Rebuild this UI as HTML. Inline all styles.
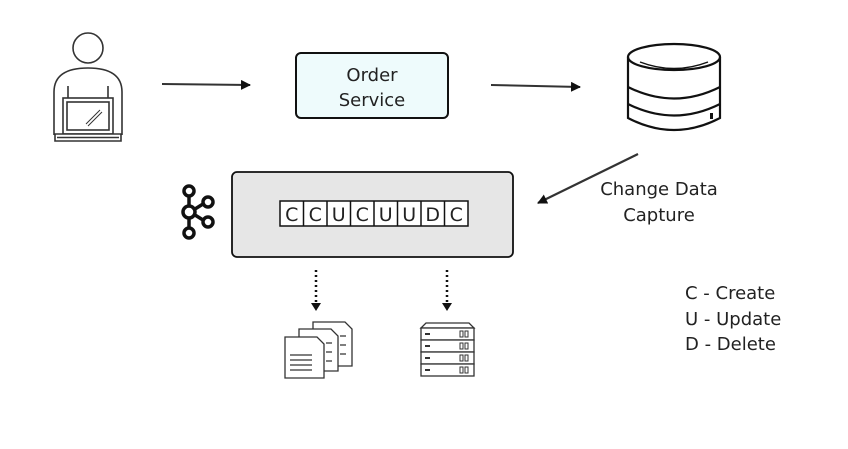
<!DOCTYPE html>
<html><head><style>
body{margin:0;background:#fff;}
svg text{font-family:"DejaVu Sans","Liberation Sans",sans-serif;fill:#222;}
</style></head><body>
<svg width="848" height="444" viewBox="0 0 848 444" xmlns="http://www.w3.org/2000/svg">
<defs>
<marker id="ah" markerWidth="10" markerHeight="10" refX="9" refY="5" orient="auto" markerUnits="userSpaceOnUse"><path d="M0,0 L10,5 L0,10 z" fill="#111"/></marker>
</defs>
<!-- person -->
<g fill="none" stroke="#333" stroke-width="1.6">
<circle cx="88" cy="48" r="15"/>
<path d="M54,135 L54,92 Q54,68 88,68 Q122,68 122,92 L122,135"/>
<rect x="63" y="98" width="50" height="36" fill="#fff"/>
<rect x="67" y="102" width="42" height="28"/>
<path d="M55,134 L121,134 L121,141 L55,141 z" fill="#fff"/>
<path d="M57,137.5 L119,137.5"/>
<path d="M86,124 L100,110 M88,126 L102,112" stroke-width="1"/>
<path d="M68,98 L68,86 M108,98 L108,86"/>
</g>
<!-- arrows -->
<line x1="162" y1="84" x2="250" y2="85" stroke="#333" stroke-width="2" marker-end="url(#ah)"/>
<line x1="491" y1="85" x2="580" y2="87" stroke="#333" stroke-width="2" marker-end="url(#ah)"/>
<!-- order service -->
<rect x="296" y="53" width="152" height="65" rx="5" fill="#eefbfc" stroke="#111" stroke-width="2"/>
<text x="372" y="81" font-size="18" text-anchor="middle">Order</text>
<text x="372" y="106" font-size="18" text-anchor="middle">Service</text>
<!-- db -->
<g fill="none" stroke="#111" stroke-width="2.2">
<ellipse cx="674" cy="57" rx="46" ry="13"/>
<path d="M628,57 L628,118 Q674,142 720,118 L720,57"/>
<path d="M628,87 Q674,110 720,87"/>
<path d="M628,104 Q674,127 720,104"/>
<path d="M640,62 Q674,75 708,62" stroke-width="1.4"/>
</g>
<rect x="710" y="113" width="3" height="6" fill="#111"/>
<!-- cdc arrow -->
<line x1="638" y1="154" x2="538" y2="203" stroke="#333" stroke-width="2.2" marker-end="url(#ah)"/>
<text x="659" y="195" font-size="18" text-anchor="middle">Change Data</text>
<text x="659" y="221" font-size="18" text-anchor="middle">Capture</text>
<!-- kafka box -->
<rect x="232" y="172" width="281" height="85" rx="5" fill="#e6e6e6" stroke="#111" stroke-width="1.8"/>
<g font-size="19" text-anchor="middle">
<rect x="280" y="201" width="188" height="25" fill="#fff" stroke="#111" stroke-width="1.5"/>
<g stroke="#111" stroke-width="1.5">
<line x1="303.5" y1="201" x2="303.5" y2="226"/><line x1="327" y1="201" x2="327" y2="226"/>
<line x1="350.5" y1="201" x2="350.5" y2="226"/><line x1="374" y1="201" x2="374" y2="226"/>
<line x1="397.5" y1="201" x2="397.5" y2="226"/><line x1="421" y1="201" x2="421" y2="226"/>
<line x1="444.5" y1="201" x2="444.5" y2="226"/>
</g>
<text x="291.75" y="221">C</text><text x="315.25" y="221">C</text><text x="338.75" y="221">U</text>
<text x="362.25" y="221">C</text><text x="385.75" y="221">U</text><text x="409.25" y="221">U</text>
<text x="432.75" y="221">D</text><text x="456.25" y="221">C</text>
</g>
<!-- kafka logo -->
<g fill="none" stroke="#111" stroke-width="3.5">
<circle cx="189" cy="191" r="5"/><circle cx="189" cy="212" r="6"/><circle cx="189" cy="233" r="5"/>
<circle cx="208" cy="202" r="5"/><circle cx="208" cy="222" r="5"/>
<line x1="189" y1="196" x2="189" y2="206"/><line x1="189" y1="218" x2="189" y2="228"/>
<line x1="195" y1="209" x2="203" y2="204"/><line x1="195" y1="215" x2="203" y2="220"/>
</g>
<!-- dotted arrows -->
<line x1="316" y1="270" x2="316" y2="303" stroke="#111" stroke-width="2.5" stroke-dasharray="2,3"/>
<path d="M311,303 L321,303 L316,311 z" fill="#111"/>
<line x1="447" y1="270" x2="447" y2="303" stroke="#111" stroke-width="2.5" stroke-dasharray="2,3"/>
<path d="M442,303 L452,303 L447,311 z" fill="#111"/>
<!-- docs -->
<g fill="#fff" stroke="#333" stroke-width="1.3">
<path d="M313,322 L345,322 L352,329 L352,366 L313,366 z"/>
<path d="M299,329 L331,329 L338,336 L338,371 L299,371 z"/>
<path d="M285,337 L317,337 L324,344 L324,378 L285,378 z"/>
<path d="M340,336 L346,336 M340,345 L346,345 M340,354 L346,354 M326,343 L332,343 M326,352 L332,352 M326,361 L332,361"/>
<path d="M290,355 L312,355 M290,360 L312,360 M290,365 L312,365 M290,370 L312,370"/>
</g>
<!-- server -->
<g fill="#fff" stroke="#333" stroke-width="1.3">
<path d="M421,328 L426,323 L469,323 L474,328 z"/>
<rect x="421" y="328" width="53" height="12"/><rect x="421" y="340" width="53" height="12"/>
<rect x="421" y="352" width="53" height="12"/><rect x="421" y="364" width="53" height="12"/>
</g>
<g fill="#333">
<rect x="425" y="333" width="5" height="2"/><rect x="425" y="345" width="5" height="2"/><rect x="425" y="357" width="5" height="2"/><rect x="425" y="369" width="5" height="2"/>
</g>
<g fill="none" stroke="#333" stroke-width="1">
<rect x="460" y="331" width="3" height="6"/><rect x="465" y="331" width="3" height="6"/>
<rect x="460" y="343" width="3" height="6"/><rect x="465" y="343" width="3" height="6"/>
<rect x="460" y="355" width="3" height="6"/><rect x="465" y="355" width="3" height="6"/>
<rect x="460" y="367" width="3" height="6"/><rect x="465" y="367" width="3" height="6"/>
</g>
<!-- legend -->
<text x="685" y="299" font-size="18">C - Create</text>
<text x="685" y="325" font-size="18">U - Update</text>
<text x="685" y="350" font-size="18">D - Delete</text>
</svg>
</body></html>
